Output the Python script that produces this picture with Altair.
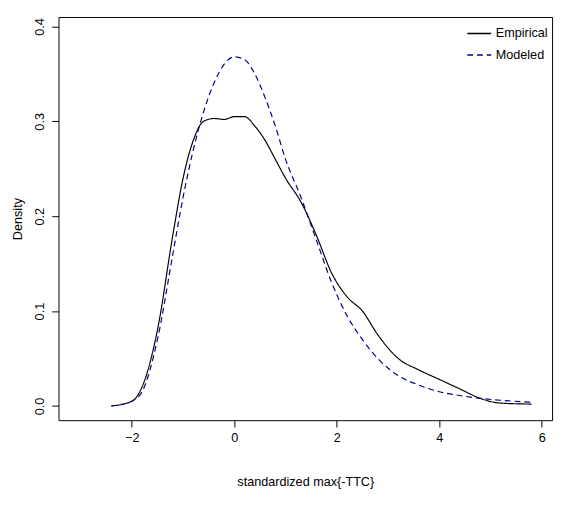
import pandas as pd
import altair as alt

x_emp = [-2.4, -2.0, -1.8, -1.5, -1.2, -1.0, -0.8, -0.6, -0.4, -0.2, 0.0, 0.2, 0.4, 0.6, 0.8, 1.0, 1.3, 1.6, 1.9, 2.2, 2.5, 2.8, 3.2, 3.6, 4.0, 4.4, 4.8, 5.2, 5.8]
y_emp = [0.0, 0.005, 0.02, 0.08, 0.18, 0.24, 0.28, 0.30, 0.303, 0.302, 0.305, 0.305, 0.295, 0.28, 0.26, 0.24, 0.215, 0.18, 0.14, 0.115, 0.10, 0.075, 0.05, 0.038, 0.028, 0.018, 0.008, 0.003, 0.002]
x_mod = [-2.4, -2.0, -1.8, -1.5, -1.2, -1.0, -0.8, -0.6, -0.4, -0.2, 0.0, 0.2, 0.4, 0.6, 0.8, 1.0, 1.3, 1.6, 1.9, 2.2, 2.5, 2.8, 3.2, 3.6, 4.0, 4.4, 4.8, 5.2, 5.8]
y_mod = [0.0, 0.005, 0.015, 0.07, 0.16, 0.22, 0.27, 0.31, 0.34, 0.36, 0.368, 0.365, 0.35, 0.325, 0.295, 0.26, 0.22, 0.175, 0.13, 0.095, 0.07, 0.05, 0.032, 0.022, 0.015, 0.011, 0.008, 0.006, 0.004]

df = pd.concat([
    pd.DataFrame({"x": x_emp, "y": y_emp, "series": "Empirical"}),
    pd.DataFrame({"x": x_mod, "y": y_mod, "series": "Modeled"}),
])

font = "Liberation Sans"
lines = alt.Chart(df).mark_line(interpolate="monotone", strokeWidth=1.2).encode(
    x=alt.X("x:Q", title="standardized max{-TTC}",
            scale=alt.Scale(domain=[-3.43, 6.2], nice=False, zero=False),
            axis=alt.Axis(values=[-2, 0, 2, 4, 6], grid=False, domain=False,
                          tickColor="black", tickSize=7, labelPadding=5,
                          titlePadding=32)),
    y=alt.Y("y:Q", title="Density",
            scale=alt.Scale(domain=[-0.015, 0.41], nice=False, zero=False),
            axis=alt.Axis(values=[0.0, 0.1, 0.2, 0.3, 0.4], format=".1f", grid=False,
                          domain=False, tickColor="black", tickSize=7,
                          labelAngle=-90, labelAlign="center", labelBaseline="bottom",
                          labelPadding=5, titlePadding=10)),
    color=alt.Color("series:N", title=None,
                    scale=alt.Scale(domain=["Empirical", "Modeled"], range=["black", "#00008B"]),
                    legend=alt.Legend(orient="top-right", symbolType="stroke",
                                      symbolSize=600, symbolStrokeWidth=1.5,
                                      labelFontSize=13, rowPadding=2, offset=4)),
    strokeDash=alt.StrokeDash("series:N", title=None,
                              scale=alt.Scale(domain=["Empirical", "Modeled"], range=[[1, 0], [6, 4]])),
)

chart = lines.properties(
    width=508, height=415,
    background="white",
    autosize=alt.AutoSizeParams(type="none"),
    padding={"left": 52, "top": 2, "right": 3, "bottom": 80},
).configure_view(stroke="black", strokeWidth=1).configure_axis(
    labelFont=font, titleFont=font, labelFontSize=13, titleFontSize=13,
    labelColor="black", titleColor="black", titleFontWeight="normal",
).configure_legend(labelFont=font, labelColor="black")

chart.save("out.html", embed_options={"renderer": "svg", "actions": False})
